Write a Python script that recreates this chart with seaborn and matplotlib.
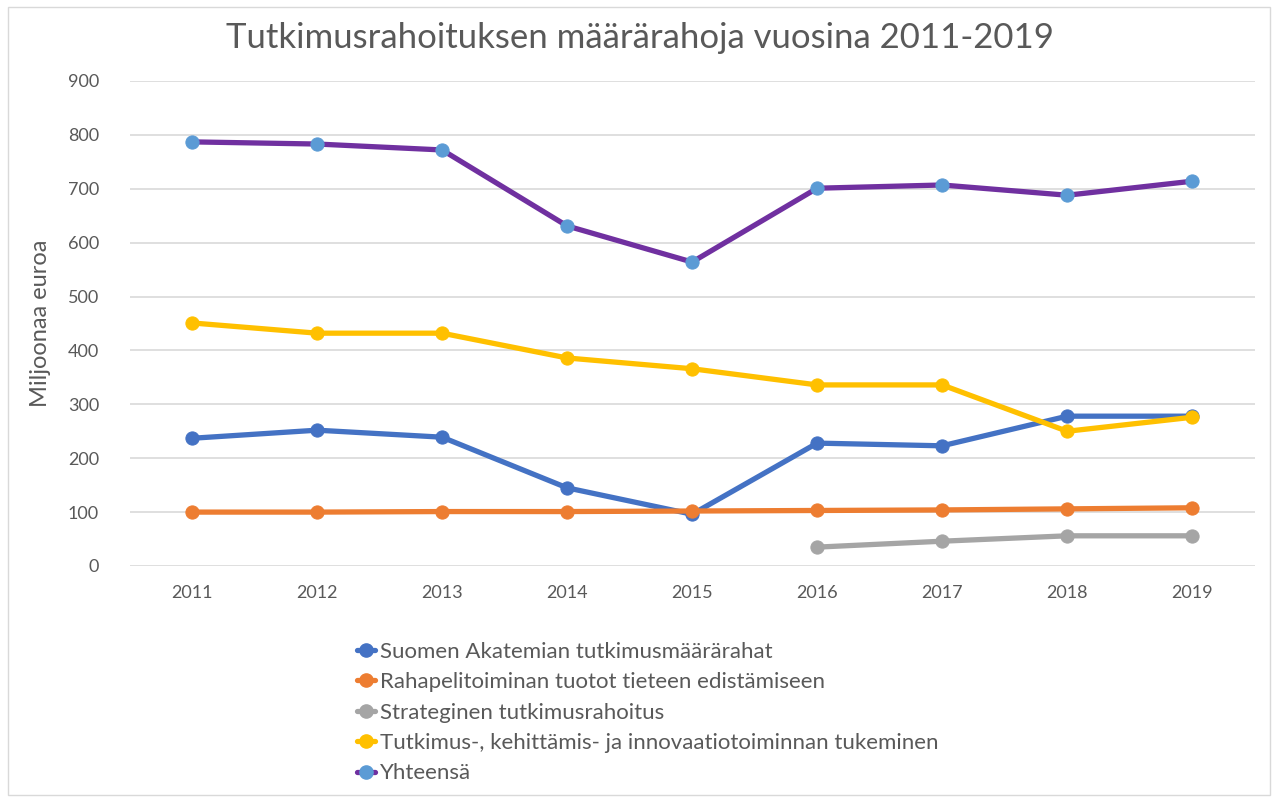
import numpy as np
import pandas as pd
import matplotlib.pyplot as plt
import seaborn as sns
from matplotlib.lines import Line2D
from matplotlib.patches import Rectangle

# data (millions of euros)
years = [2011, 2012, 2013, 2014, 2015, 2016, 2017, 2018, 2019]
akatemia = [237, 252, 239, 145, 96, 228, 223, 278, 278]
rahapeli = [100, 100, 101, 101, 102, 103, 104, 106, 108]
strateginen = [np.nan, np.nan, np.nan, np.nan, np.nan, 35, 46, 56, 56]
tki = [451, 432, 432, 386, 366, 336, 336, 250, 276]
yhteensa = [787, 783, 772, 631, 564, 701, 707, 688, 714]

labels = ['Suomen Akatemian tutkimusmäärärahat',
          'Rahapelitoiminan tuotot tieteen edistämiseen',
          'Strateginen tutkimusrahoitus',
          'Tutkimus-, kehittämis- ja innovaatiotoiminnan tukeminen',
          'Yhteensä']
series = [akatemia, rahapeli, strateginen, tki, yhteensa]
line_colors = ['#4472C4', '#ED7D31', '#A5A5A5', '#FFC000', '#7030A0']
marker_colors = ['#4472C4', '#ED7D31', '#A5A5A5', '#FFC000', '#5B9BD5']

sns.set_theme(style="white")
plt.rcParams['font.family'] = ['Lato', 'DejaVu Sans']
text_col = '#595959'

fig = plt.figure(figsize=(12.79, 8.01), dpi=100)
ax = fig.add_axes([0.1013, 0.2934, 0.8797, 0.6055])

for vals, lab, lc, mc in zip(series, labels, line_colors, marker_colors):
    df = pd.DataFrame({'year': years, 'value': vals}).dropna()
    sns.lineplot(data=df, x='year', y='value', ax=ax, color=lc, linewidth=3.8,
                 marker='o', markersize=9.5, markerfacecolor=mc, markeredgecolor=mc)

ax.set_xlim(2010.5, 2019.5)
ax.set_ylim(0, 900)
ax.set_yticks(range(0, 901, 100))
ax.set_xticks(years)
ax.set_xticklabels([str(y) for y in years])
ax.yaxis.grid(True, color='#D9D9D9', linewidth=1.2)
ax.set_axisbelow(True)
for s in ax.spines.values():
    s.set_visible(False)
ax.tick_params(axis='both', length=0, labelsize=13, colors=text_col)
ax.tick_params(axis='y', pad=22)
ax.tick_params(axis='x', pad=14)
ax.set_xlabel('')
ax.set_ylabel('Miljoonaa euroa', fontsize=17, color=text_col, labelpad=12)

fig.text(0.5, 0.953, 'Tutkimusrahoituksen määrärahoja vuosina 2011-2019',
         ha='center', va='center', fontsize=25, color=text_col)

handles = [Line2D([0], [0], color=lc, linewidth=3.8, marker='o', markersize=9.5,
                  markerfacecolor=mc, markeredgecolor=mc)
           for lc, mc in zip(line_colors, marker_colors)]
fig.legend(handles, labels, loc='upper left', bbox_to_anchor=(0.272, 0.21),
           frameon=False, fontsize=16, labelcolor=text_col, handlelength=0.8,
           handletextpad=0.25, labelspacing=0.47, borderaxespad=0)

# light border around the chart area
fig.add_artist(Rectangle((0.006, 0.008), 0.987, 0.983, transform=fig.transFigure,
                         fill=False, edgecolor='#D9D9D9', linewidth=1))

fig.savefig('out.png', dpi=100)
